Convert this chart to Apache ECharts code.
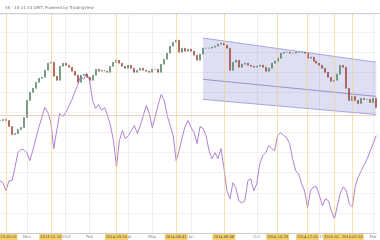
<!DOCTYPE html>
<html><head><meta charset="utf-8">
<script src="https://cdn.jsdelivr.net/npm/echarts@6/dist/echarts.min.js"></script>
<style>html,body{margin:0;padding:0;background:#fff}#c{width:380px;height:240px}</style>
</head><body><div id="c"></div>
<script>
const closes = [
112,113,112,106,98,99,103,105,115,132,
140,144,150,154,155,162,169,170,156,152,
166,169,167,165,161,157,150,157,158,155,
152,157,163,161,162,161,160,166,170,172,
169,166,164,167,164,160,162,164,162,161,
160,163,163,160,168,173,179,186,190,192,
180,184,181,183,181,177,172,178,184,184,
184,185,186,188,189,187,184,162,170,172,
165,168,169,167,166,165,166,167,165,161,
164,169,171,174,179,180,180,179,179,180,
180,180,179,174,175,171,169,167,164,160,
155,151,152,158,167,165,144,132,136,132,
129,134,133,133,130,134,125];
const oscillator = [
52,50,42,52,52,65,80,83,83,80,
72,82,94,105,115,125,120,111,84,102,
119,116,120,126,132,140,147,156,153,159,
152,132,124,128,122,125,117,107,92,66,
92,102,94,97,102,107,99,107,117,127,
119,105,116,128,138,132,117,107,97,72,
82,95,106,112,105,100,89,106,104,97,
82,74,80,74,84,65,42,34,50,45,
32,30,32,52,54,42,49,69,77,80,
87,84,82,97,100,97,95,89,74,62,
59,49,42,25,42,46,46,37,27,34,
32,22,14,27,40,46,42,29,26,47,
56,62,68,74,82,89,97];
const tickIndex = [9,22,30,43,51,64,86,107,125];
const tickLabels = ['Nov','2014','Feb','Apr','May','Jul','Oct','2015','Mar'];
const markerIndex = [2,17,39,59,75,93,103,112,118];
const markerLabels = ['2013-10-10','2013-12-10','2014-03-10','2014-06-02','2014-08-06','2014-10-23','2014-12-01','2015-01-15','2015-02-02'];
const levelValue = 117;
const channelIndex = [68,126];
const channelTop = [194,170];
const channelMid = [153,136];
const channelBottom = [133,118];

const categories = closes.map((_, i) => String(i));
const candles = closes.map((c, i) => {
  const o = i === 0 ? c : closes[i - 1];
  return [o, c, Math.min(o, c), Math.max(o, c)];
});

const chart = echarts.init(document.getElementById('c'));
chart.setOption({
  animation: false,
  backgroundColor: '#fff',
  title: {text: 'XS - 10:11:43 GMT, Powered by TradingView', left: 0, top: 1,
    textStyle: {fontSize: 4, color: '#777', fontWeight: 'normal', fontFamily: 'DejaVu Sans'}},
  graphic: [{type: 'line', shape: {x1: 0, y1: 13.5, x2: 380, y2: 13.5}, style: {stroke: '#d0d0d0', lineWidth: 1}}],
  grid: {left: 0, right: 2, top: 14, bottom: 7},
  xAxis: {
    type: 'category', data: categories, boundaryGap: false,
    axisLine: {lineStyle: {color: '#ccc'}}, axisTick: {show: false},
    axisLabel: {interval: (i) => tickIndex.includes(i), formatter: (v, i) => tickLabels[tickIndex.indexOf(Number(v))] || '',
      fontSize: 4, color: '#888', margin: 2, fontFamily: 'DejaVu Sans'},
    splitLine: {show: true, interval: (i) => tickIndex.includes(i), lineStyle: {color: '#eeeeee'}}
  },
  yAxis: {type: 'value', min: 0, max: 218, interval: 20, axisLabel: {show: false},
    axisLine: {show: false}, axisTick: {show: false}, splitLine: {lineStyle: {color: '#f2f2f2'}}},
  series: [
    {
      type: 'custom', z: 1, silent: true, clip: true, data: [[0, 0]],
      renderItem: (params, api) => {
        const p = (k, v) => api.coord([channelIndex[k], v]);
        const t0 = p(0, channelTop[0]), t1 = p(1, channelTop[1]);
        const m0 = p(0, channelMid[0]), m1 = p(1, channelMid[1]);
        const b0 = p(0, channelBottom[0]), b1 = p(1, channelBottom[1]);
        return {type: 'group', children: [
          {type: 'polygon', shape: {points: [t0, t1, b1, b0]}, style: {fill: 'rgba(120,120,210,0.24)'}},
          {type: 'line', shape: {x1: t0[0], y1: t0[1], x2: t1[0], y2: t1[1]}, style: {stroke: '#a6a6de', lineWidth: 1}},
          {type: 'line', shape: {x1: m0[0], y1: m0[1], x2: m1[0], y2: m1[1]}, style: {stroke: '#9d8fc4', lineWidth: 1}},
          {type: 'line', shape: {x1: b0[0], y1: b0[1], x2: b1[0], y2: b1[1]}, style: {stroke: '#a6a6de', lineWidth: 1}}
        ]};
      }
    },
    {
      type: 'line', z: 2, data: oscillator, symbol: 'none', silent: true,
      lineStyle: {color: '#ad82d4', width: 1},
      markLine: {
        silent: true, symbol: 'none', animation: false,
        data: markerIndex.map((idx, k) => ({
          xAxis: idx,
          lineStyle: {color: 'rgba(245,200,110,0.55)', type: 'solid', width: 1},
          label: {show: true, position: 'start', formatter: markerLabels[k], backgroundColor: '#f6d16a',
            color: '#444', fontSize: 3.6, padding: [1, 1], distance: 1, fontFamily: 'DejaVu Sans'}
        })).concat([{yAxis: levelValue, lineStyle: {color: 'rgba(240,175,150,0.6)', type: 'solid', width: 1}, label: {show: false}}])
      }
    },
    {
      type: 'candlestick', z: 3, data: candles, barMaxWidth: 1.6, silent: true,
      itemStyle: {color: '#6ba583', color0: '#d75442', borderColor: '#3f6b4a', borderColor0: '#7a3328', borderWidth: 0.5}
    }
  ]
});
</script></body></html>
